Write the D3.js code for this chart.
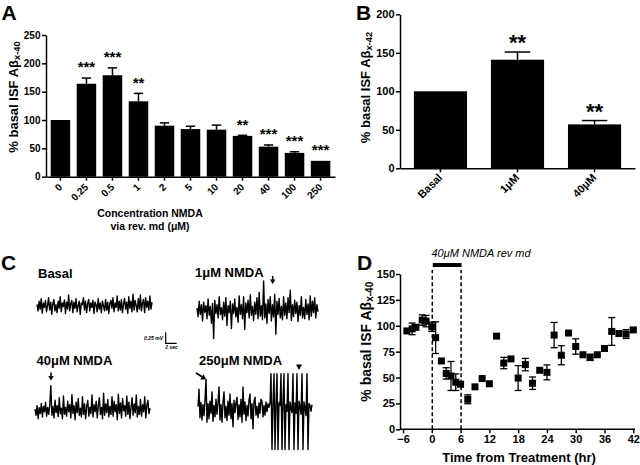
<!DOCTYPE html>
<html><head><meta charset="utf-8">
<script src="https://cdn.jsdelivr.net/npm/d3@7"></script>
<style>
html,body{margin:0;padding:0;background:#fff;}
svg{display:block;}
text{font-family:"Liberation Sans",Arial,Helvetica,sans-serif;font-weight:bold;fill:#000;}
</style></head><body>
<svg id="chart" width="640" height="465"></svg>
<script>
// ---------- Panel A data ----------
const catsA = ["0","0.25","0.5","1","2","5","10","20","40","100","250"];
const valuesA = [100,164,179,133,90,84,83,72,53,42,28];
const errorsA = [0,10,13,14,5,5,8,1,3,2,0];
const starsA = ["","***","***","**","","","","**","***","***","***"];
const ticksA = [0,50,100,150,200,250];

// ---------- Panel B data ----------
const catsB = ["Basal","1\u03bcM","40\u03bcM"];
const valuesB = [100,141,57];
const errorsB = [0,10,5];
const starsB = ["","**","**"];
const ticksB = [0,50,100,150,200];

// ---------- Panel C data (mV samples) ----------
const traceBasal = [0.05,-0.10,0.12,-0.06,0.18,-0.15,0.08,-0.02,0.14,-0.12,
0.02,0.20,-0.08,0.10,-0.18,0.06,0.16,-0.10,0.04,-0.14,
0.12,-0.04,0.22,-0.12,0.08,0.00,0.15,-0.16,0.10,-0.06,
0.26,-0.10,0.06,0.14,-0.14,0.10,-0.04,0.18,-0.12,0.02,
0.12,-0.18,0.08,0.04,0.20,-0.08,0.12,-0.14,0.06,0.16,
-0.10,0.08,-0.02,0.14,-0.16,0.10,0.04,-0.12,0.18,-0.06,
0.08,-0.14,0.12,0.02,-0.10,0.16,-0.08,0.10,-0.16,0.06,
0.14,-0.04,0.20,-0.12,0.08,-0.02,0.24,-0.10,0.12,-0.08,
0.16,-0.14,0.06,0.18,-0.06,0.10,-0.16,0.22,-0.04,0.12,
-0.12,0.28,-0.08,0.14,0.02,-0.12,0.18,-0.06,0.26,-0.10,
0.08,0.16,-0.14,0.20,-0.02,0.12,-0.08,0.24,-0.06,0.10];
const trace1uM = [0.05,-0.15,0.20,-0.10,0.12,-0.25,0.18,-0.05,0.10,-0.20,
0.25,-0.12,0.08,-0.30,0.15,-0.65,0.22,-0.08,0.12,-0.18,
0.30,-0.10,0.05,-0.22,0.18,-0.14,0.28,-0.35,0.10,-0.06,
0.20,-0.42,0.14,-0.08,0.25,-0.16,0.06,-0.28,0.32,-0.10,
0.12,-0.20,0.30,-0.44,0.16,-0.06,0.22,-0.18,0.35,-0.12,
0.08,-0.24,0.18,-0.10,0.28,-0.20,0.40,-0.14,0.10,-0.22,
0.66,-0.18,0.14,-0.30,0.24,-0.08,0.30,-0.25,0.12,-0.16,
0.36,-0.55,0.20,-0.10,0.26,-0.18,0.08,-0.22,0.30,-0.12,
0.16,-0.20,0.28,-0.06,0.45,-0.24,0.12,-0.15,0.22,-0.08,
0.18,-0.26,0.10,-0.12,0.30,-0.18,0.06,-0.20,0.24,-0.10,
0.14,-0.22,0.32,-0.14,0.20,-0.06,0.28,-0.18,0.12,-0.04];
const trace40uM = [0.02,-0.12,0.10,-0.20,0.05,-0.08,0.15,-0.16,0.08,-0.04,
0.18,-0.14,0.06,-0.10,0.12,0.55,-0.12,0.08,-0.18,0.22,
-0.06,0.10,-0.15,0.28,-0.08,0.04,-0.20,0.32,-0.10,0.06,
-0.14,0.20,-0.04,0.12,-0.18,0.35,-0.08,0.10,-0.22,0.18,
-0.06,0.26,-0.12,0.04,-0.16,0.30,-0.10,0.14,-0.20,0.08,
0.22,-0.14,0.06,-0.08,0.34,-0.16,0.12,-0.04,0.20,-0.18,
0.10,0.28,-0.10,0.06,-0.20,0.38,-0.12,0.14,-0.06,0.24,
-0.16,0.08,-0.10,0.30,-0.14,0.20,-0.04,0.12,-0.22,0.36,
-0.08,0.16,-0.18,0.26,-0.02,0.10,-0.14,0.32,-0.10,0.18,
-0.20,0.06,0.28,-0.12,0.14,-0.06,0.34,-0.16,0.08,-0.10,
0.24,-0.14,0.12,-0.04,0.30,-0.18,0.10,0.22,-0.08,0.04];
const trace250uM = [0.05,0.45,-0.20,0.15,-0.25,0.10,-0.15,0.20,0.68,-0.30,
0.12,-0.22,0.18,-0.10,0.39,-0.28,0.08,-0.18,0.22,-0.12,
0.15,0.50,-0.25,0.10,-0.30,0.16,0.39,-0.20,0.06,-0.26,
0.18,-0.14,0.34,-0.22,0.12,-0.40,0.20,-0.08,0.14,0.27,
-0.24,0.10,-0.18,0.22,-0.30,0.50,-0.12,0.16,-0.26,0.08,
-0.16,0.20,0.34,-0.22,0.12,-0.45,0.18,0.27,-0.14,0.06,
-0.20,0.14,-0.10,0.22,0.18,-0.18,0.08,-0.14,0.16,-0.06,
0.12,0.04,0.14,
0.80,-0.92,0.10,
0.80,-0.92,0.12,
0.80,-0.92,0.15,0.08,
0.80,-0.92,0.18,
0.80,-0.92,0.10,-0.05,
0.80,-0.92,0.16,0.02,-0.08,
0.80,-0.92,0.14,-0.10,
0.80,-0.92,0.18,0.05,-0.12,
0.80,-0.92,0.16,0.02,-0.15,
0.80,-0.92,0.12,0.08,-0.05,0.10];
const scaleBarMv = 0.25, scaleBarSec = 2;

// ---------- Panel D data ----------
const timesD = [-5.2,-4.1,-3.3,-2,-1.2,0,0.8,2,3,4,5,6,7.5,9,10.5,12,13.5,15,16.5,18,19.5,21,22.5,24,25.5,27,28.5,30,31.5,33,34.5,36,37.5,39,40.5,42];
const valuesD = [95,97,98.5,105.5,104.5,99,88.5,66,54,51.5,45.5,43.5,29,41,49,44,90,64,68,49.5,62.5,44.5,57,55,91,71.5,93,80,72,69.5,72,78,94.5,92.5,92,96];
const errorsD = [0,5.6,0,5,5.5,4.5,15.3,0,5.5,14,8,0,4.3,0,0,0,0,5.5,0,12,6,6,0,7.2,12.2,9.2,0,7.4,0,3,0,0,13.4,0,4.3,2];
const ticksDx = [-6,0,6,12,18,24,30,36,42];
const ticksDy = [0,25,50,75,100,125,150];
const treatmentD = [0,6];

// ---------- drawing ----------
const FONT = '"Liberation Sans", Arial, Helvetica, sans-serif';
const svg = d3.select("#chart");
svg.append("rect").attr("width",640).attr("height",465).attr("fill","#fff");

function styleAxis(g, fs){
  g.attr("font-family",FONT).attr("font-size",fs).attr("font-weight","bold");
  g.selectAll("path.domain").attr("stroke","#000").attr("stroke-width",1.5);
  g.selectAll(".tick line").attr("stroke","#000").attr("stroke-width",1.5);
  g.selectAll(".tick text").attr("fill","#000");
}
function yLabel(x,y,fs,main,sub){
  const t = svg.append("text").attr("transform",`translate(${x},${y}) rotate(-90)`)
    .attr("text-anchor","middle").style("font-size",fs+"px");
  t.append("tspan").text(main);
  t.append("tspan").attr("dy",2).style("font-size",(fs*0.72)+"px").text(sub);
}
function letter(t,x,y,fs){ svg.append("text").attr("x",x).attr("y",y).style("font-size",fs+"px").text(t); }

function barPanel(cats, vals, errs, stars, ticks, xs, ys, tickFs, starFs, rot){
  const g = svg.append("g");
  const bw = xs.bandwidth();
  g.selectAll("rect").data(cats).join("rect")
    .attr("x",d=>xs(d)).attr("y",(d,i)=>ys(vals[i])).attr("width",bw)
    .attr("height",(d,i)=>ys(0)-ys(vals[i])).attr("fill","#000");
  cats.forEach((c,i)=>{
    const cx = xs(c)+bw/2, top = ys(vals[i]+errs[i]);
    if(errs[i]>0){
      g.append("line").attr("x1",cx).attr("x2",cx).attr("y1",ys(vals[i])).attr("y2",top).attr("stroke","#000").attr("stroke-width",1.5);
      g.append("line").attr("x1",cx-bw*0.24).attr("x2",cx+bw*0.24).attr("y1",top).attr("y2",top).attr("stroke","#000").attr("stroke-width",1.5);
    }
    if(stars[i]) g.append("text").attr("x",cx).attr("y",top-14+starFs*0.56).attr("text-anchor","middle").style("font-size",starFs+"px").text(stars[i]);
  });
  const ay = g.append("g").attr("transform",`translate(${xs.range()[0]},0)`)
    .call(d3.axisLeft(ys).tickValues(ticks).tickSize(4).tickPadding(1.5).tickSizeOuter(0));
  styleAxis(ay,tickFs);
  const ax = g.append("g").attr("transform",`translate(0,${ys(0)})`)
    .call(d3.axisBottom(xs).tickSize(4).tickSizeOuter(0));
  styleAxis(ax,tickFs);
  ax.selectAll(".tick text").attr("x",0).attr("y",0).attr("dy",0).attr("text-anchor","end")
    .attr("transform",`translate(${rot[0]},${rot[1]}) rotate(-45)`);
  return g;
}

// Panel A
const yA = d3.scaleLinear().domain([0,250]).range([176.7,35]);
const xA = d3.scaleBand().domain(catsA).range([46,335]).paddingInner(0.25).paddingOuter(0.18);
barPanel(catsA,valuesA,errorsA,starsA,ticksA,xA,yA,10,15,[2.5,11]);
yLabel(18,97,13,"% basal ISF A\u03b2","x-40");
svg.append("text").attr("x",150).attr("y",217).attr("text-anchor","middle").style("font-size","10.5px").text("Concentration NMDA");
svg.append("text").attr("x",150).attr("y",230).attr("text-anchor","middle").style("font-size","10.5px").text("via rev. md (\u03bcM)");
letter("A",1.5,19.5,21);

// Panel B
const yB = d3.scaleLinear().domain([0,200]).range([168.3,14.3]);
const xB = d3.scaleBand().domain(catsB).range([400,635]).paddingInner(0.31).paddingOuter(0.18);
barPanel(catsB,valuesB,errorsB,starsB,ticksB,xB,yB,11,22,[2.5,10]);
yLabel(370,87.5,13,"% basal ISF A\u03b2","x-42");
letter("B",356,19.5,21);

// Panel C
const mvScale = d3.scaleLinear().domain([-1,1]).range([44,-44]);
const secScale = d3.scaleLinear().domain([0,1]).range([0,5.5]);
function trace(vals, x0, x1, yc){
  const xi = d3.scaleLinear().domain([0,vals.length-1]).range([x0,x1]);
  svg.append("path").attr("d",d3.line().x((d,i)=>xi(i)).y(d=>yc+mvScale(d))(vals))
    .attr("fill","none").attr("stroke","#000").attr("stroke-width",1.4).attr("stroke-linejoin","round");
}
trace(traceBasal,37,152,306.5);
trace(trace1uM,197,318,310);
trace(trace40uM,35,150,410);
trace(trace250uM,198,312,409);
function label(t,x,y){ svg.append("text").attr("x",x).attr("y",y).style("font-size","13px").text(t); }
label("Basal",38,277.5);
label("1\u03bcM NMDA",195,276.5);
label("40\u03bcM NMDA",36.5,365);
label("250\u03bcM NMDA",199,365);
letter("C",1,270,21);
function downArrow(x,y1,y2){
  svg.append("line").attr("x1",x).attr("x2",x).attr("y1",y1).attr("y2",y2-3).attr("stroke","#000").attr("stroke-width",1.6);
  svg.append("path").attr("d",`M${x-2.8},${y2-4.5}L${x+2.8},${y2-4.5}L${x},${y2}Z`).attr("fill","#000");
}
downArrow(272.7,276,284);
downArrow(51,372.5,380.5);
// diagonal arrow
svg.append("line").attr("x1",196).attr("y1",373).attr("x2",202.5).attr("y2",377).attr("stroke","#000").attr("stroke-width",1.8);
svg.append("path").attr("d","M200.2,379.4L203.8,374.2L206,379.5Z").attr("fill","#000");
// triangle
svg.append("path").attr("d","M296,364.5L302,364.5L299,370Z").attr("fill","#000");
// scale bar
const sbx = 165.7, sby = 343.3;
svg.append("path").attr("d",`M${sbx},${sby-(mvScale(0)-mvScale(scaleBarMv))}V${sby}H${sbx+secScale(scaleBarSec)}`)
  .attr("fill","none").attr("stroke","#000").attr("stroke-width",1.2);
svg.append("text").attr("x",163).attr("y",340).attr("text-anchor","end").style("font-size","5px").style("font-style","italic").text("0.25 mV");
svg.append("text").attr("x",171.5).attr("y",348.5).attr("text-anchor","middle").style("font-size","5px").style("font-style","italic").text("2 sec");

// Panel D
const xD = d3.scaleLinear().domain([-6,42]).range([403,633.3]);
const yD = d3.scaleLinear().domain([0,150]).range([429.3,274]);
const gD = svg.append("g");
treatmentD.forEach(t=>{
  gD.append("line").attr("x1",xD(t)+0.5).attr("x2",xD(t)+0.5).attr("y1",yD(0)).attr("y2",270)
    .attr("stroke","#000").attr("stroke-width",1.5).attr("stroke-dasharray","4,2.5");
});
gD.append("rect").attr("x",xD(treatmentD[0])+1).attr("y",263).attr("width",xD(treatmentD[1])-xD(treatmentD[0])).attr("height",4).attr("fill","#000");
svg.append("text").attr("x",431.5).attr("y",256.5).style("font-size","11px").style("font-weight","normal").style("font-style","italic").text("40\u03bcM NMDA rev md");
timesD.forEach((t,i)=>{
  if(errorsD[i]<=0) return;
  const cx = xD(t), y1 = yD(valuesD[i]-errorsD[i]), y2 = yD(valuesD[i]+errorsD[i]);
  gD.append("line").attr("x1",cx).attr("x2",cx).attr("y1",y1).attr("y2",y2).attr("stroke","#000").attr("stroke-width",1.3);
  [y1,y2].forEach(y=>gD.append("line").attr("x1",cx-3.5).attr("x2",cx+3.5).attr("y1",y).attr("y2",y).attr("stroke","#000").attr("stroke-width",1.3));
});
gD.selectAll("rect.pt").data(timesD).join("rect").attr("class","pt")
  .attr("x",d=>xD(d)-3.5).attr("y",(d,i)=>yD(valuesD[i])-3.5).attr("width",7).attr("height",7).attr("fill","#000");
const ayD = gD.append("g").attr("transform","translate(400,0)")
  .call(d3.axisLeft(yD).tickValues(ticksDy).tickSize(4).tickPadding(1).tickSizeOuter(0));
styleAxis(ayD,11);
const axD = gD.append("g").attr("transform",`translate(0,${yD(0)})`)
  .call(d3.axisBottom(xD).tickValues(ticksDx).tickSize(4).tickPadding(2).tickSizeOuter(0));
styleAxis(axD,11);
axD.select("path.domain").attr("d","M400,0H635");
yLabel(371,341.7,14,"% basal ISF A\u03b2","x-40");
svg.append("text").attr("x",519).attr("y",462).attr("text-anchor","middle").style("font-size","13px").text("Time from Treatment (hr)");
letter("D",357,270,21);
</script>
</body></html>
